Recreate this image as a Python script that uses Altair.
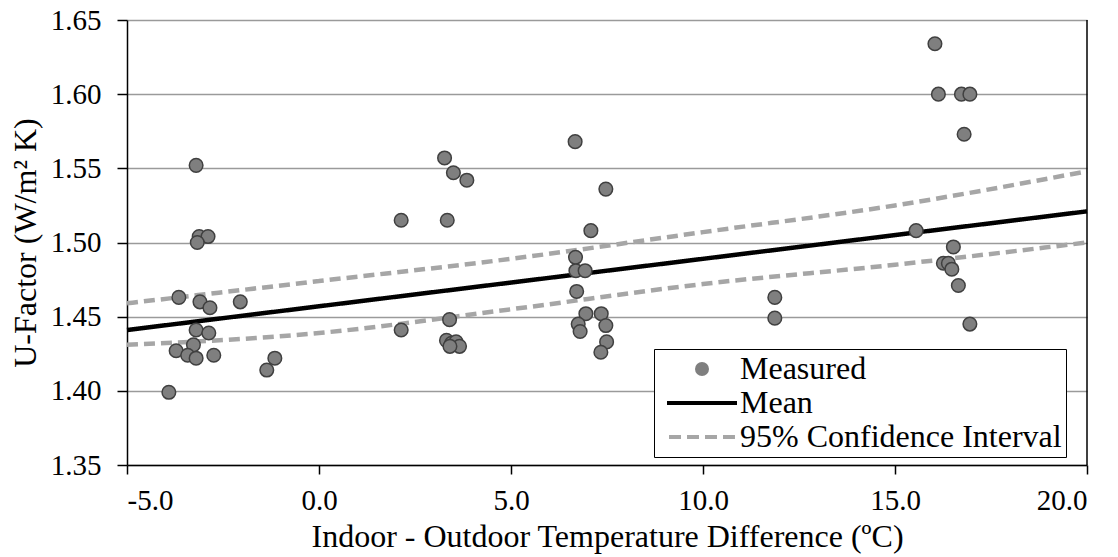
import altair as alt
import pandas as pd

# ---- data ----
meas_x = [-3.20, -3.12, -2.89, -3.17, -3.65, -3.10, -2.84, -2.05, -3.20, -2.87,
          -3.27, -3.72, -3.42, -3.20, -2.74, -1.15, -1.36, -3.91, 2.14, 2.14,
          3.27, 3.50, 3.85, 3.34, 3.40, 3.32, 3.45, 3.57, 3.66, 3.41,
          6.67, 7.47, 7.08, 6.68, 6.69, 6.93, 6.71, 6.95, 7.35, 6.75,
          6.80, 7.47, 7.49, 7.34, 16.04, 16.13, 16.73, 16.95, 16.80, 15.55,
          16.52, 16.26, 16.39, 16.48, 16.65, 16.95, 11.87, 11.87]
meas_y = [1.552, 1.504, 1.504, 1.500, 1.463, 1.460, 1.456, 1.460, 1.441, 1.439,
          1.431, 1.427, 1.424, 1.422, 1.424, 1.422, 1.414, 1.399, 1.515, 1.441,
          1.557, 1.547, 1.542, 1.515, 1.448, 1.434, 1.432, 1.433, 1.430, 1.430,
          1.568, 1.536, 1.508, 1.490, 1.481, 1.481, 1.467, 1.452, 1.452, 1.445,
          1.440, 1.444, 1.433, 1.426, 1.634, 1.600, 1.600, 1.600, 1.573, 1.508,
          1.497, 1.486, 1.486, 1.482, 1.471, 1.445, 1.463, 1.449]

fit_x = [-5.0, 20.0]
mean_y = [1.441, 1.521]

ci_x = [-5.0, 0.0, 5.0, 10.0, 15.0, 20.0]
ci_upper = [1.459, 1.474, 1.489, 1.507, 1.525, 1.548]
ci_lower = [1.431, 1.439, 1.455, 1.472, 1.485, 1.500]

series = ["Measured", "Mean", "95% Confidence Interval"]
x_ticks = [-5.0, 0.0, 5.0, 10.0, 15.0, 20.0]
y_ticks = [1.35, 1.40, 1.45, 1.50, 1.55, 1.60, 1.65]

FONT = "'Liberation Serif', 'Times New Roman', 'DejaVu Serif', serif"
GRAY_PT = "#7f7f7f"
CI_COL = "#a6a6a6"

pts = pd.DataFrame({"x": meas_x, "y": meas_y, "series": series[0]})
up = pd.DataFrame({"x": ci_x, "y": ci_upper, "series": series[2], "band": "upper"})
lo = pd.DataFrame({"x": ci_x, "y": ci_lower, "series": series[2], "band": "lower"})
mn = pd.DataFrame({"x": fit_x, "y": mean_y, "series": series[1], "band": "mean"})
lines = pd.concat([up, lo, mn], ignore_index=True)

xs = alt.Scale(domain=[-5, 20], nice=False, zero=False)
ys = alt.Scale(domain=[1.35, 1.65], nice=False, zero=False)

x_enc = alt.X("x:Q", scale=xs, axis=alt.Axis(
    values=x_ticks, title="Indoor - Outdoor Temperature Difference (ºC)",
    labelExpr="datum.value < 0 ? '-' + format(-datum.value, '.1f') : format(datum.value, '.1f')",
    grid=False, tickSize=9, labelPadding=12, titlePadding=6))
y_enc = alt.Y("y:Q", scale=ys, axis=alt.Axis(
    values=y_ticks, format=".2f", title="U-Factor (W/m² K)",
    grid=True, gridColor="#9a9a9a", gridWidth=1.5, tickSize=10,
    labelPadding=16, titlePadding=8))

solid_path = "M-5,-0.28H5V0.28H-5Z"
dash_path = ("M-4.71,-0.28H-3V0.28H-4.71Z M-2.14,-0.28H-0.43V0.28H-2.14Z "
             "M0.43,-0.28H2.14V0.28H0.43Z M3,-0.28H4.71V0.28H3Z")

legend = alt.Legend(
    title=None, orient="none", legendX=527, legendY=329, padding=4,
    strokeColor="black", fillColor="white", labelFont=FONT, labelFontSize=32,
    labelColor="black", labelLimit=0, symbolSize=196, symbolStrokeWidth=0,
    symbolOpacity=1, symbolOffset=28, labelOffset=22, rowPadding=2,
    symbolType="circle")

color_scale = alt.Scale(domain=series, range=[GRAY_PT, "#000000", CI_COL])

line_layer = alt.Chart(lines).mark_line(strokeWidth=4.5, strokeCap="butt", interpolate="monotone").encode(
    x=x_enc, y=y_enc,
    color=alt.Color("series:N", scale=color_scale, legend=legend),
    strokeDash=alt.StrokeDash("series:N", scale=alt.Scale(domain=series, range=[[1, 0], [1, 0], [11, 6]]),
                              legend=None),
    detail="band:N")

pt_layer = alt.Chart(pts).mark_point(filled=True, size=185, stroke="#404040", strokeWidth=1.5,
                                     opacity=1).encode(
    x=x_enc, y=y_enc,
    color=alt.Color("series:N", scale=color_scale, legend=legend),
    shape=alt.Shape("series:N", scale=alt.Scale(domain=series, range=["circle", solid_path, dash_path]),
                    legend=legend))

border = alt.Chart(pd.DataFrame({"x": [x_ticks[-1]]})).mark_rule(color="black", strokeWidth=1.5).encode(
    x=alt.X("x:Q", scale=xs))

chart = alt.layer(line_layer, pt_layer, border).properties(
    width=960, height=445, background="white",
    autosize=alt.AutoSizeParams(type="none"),
    padding={"left": 127, "top": 20, "right": 31, "bottom": 92},
).configure_view(stroke=None).configure_axis(
    labelFont=FONT, labelFontSize=29, labelColor="black",
    titleFont=FONT, titleFontSize=32, titleFontWeight="normal", titleColor="black",
    domainColor="black", domainWidth=1.5, tickColor="black", tickWidth=1.5,
)

chart.save("out.html", embed_options={"renderer": "svg", "actions": False})
